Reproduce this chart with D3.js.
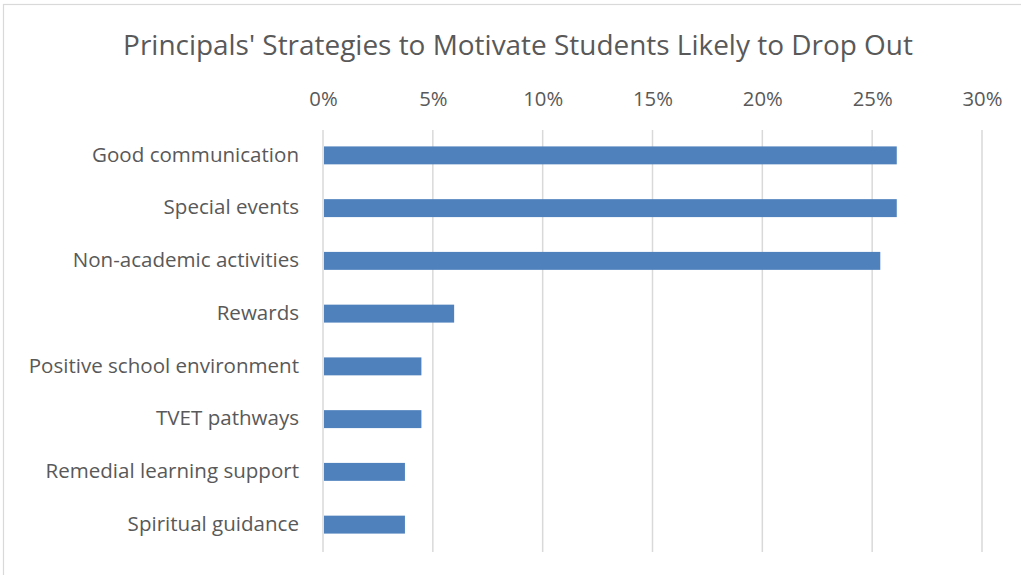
<!DOCTYPE html>
<html>
<head>
<meta charset="utf-8">
<script src="https://cdn.jsdelivr.net/npm/d3@7"></script>
<style>
  html, body { margin: 0; padding: 0; background: #ffffff; }
  svg { display: block; }
</style>
</head>
<body>
<svg id="chart" width="1021" height="575"></svg>
<script>
// Strategies and share of principals naming each one (%)
const categories = [
  "Good communication",
  "Special events",
  "Non-academic activities",
  "Rewards",
  "Positive school environment",
  "TVET pathways",
  "Remedial learning support",
  "Spiritual guidance"
];
const shares = [26.12, 26.12, 25.37, 5.97, 4.48, 4.48, 3.73, 3.73];
const tickValues = [0, 5, 10, 15, 20, 25, 30];
const title = "Principals' Strategies to Motivate Students Likely to Drop Out";

const W = 1021, H = 575;
const margin = { top: 130, right: 39, bottom: 23, left: 323 };
const FONT = "'Open Sans', 'DejaVu Sans', sans-serif";
const TEXT = "#595959";

const svg = d3.select("#chart");

// Chart area outline
svg.append("rect")
  .attr("x", 3.5).attr("y", 4.5)
  .attr("width", W + 10).attr("height", H + 10)
  .attr("fill", "#ffffff")
  .attr("stroke", "#d9d9d9")
  .attr("stroke-width", 1.2);

const x = d3.scaleLinear()
  .domain([0, 30])
  .range([margin.left, W - margin.right]);

const y = d3.scaleBand()
  .domain(categories)
  .range([margin.top - 1, H - margin.bottom - 1])
  .paddingInner(0.66)
  .paddingOuter(0.33);

// Fit a text node to a target width by adjusting its font size
function fitWidth(sel, target) {
  const base = parseFloat(sel.attr("font-size"));
  const w = sel.node().getComputedTextLength();
  sel.attr("font-size", base * target / w);
  return base * target / w;
}

// Title
const titleText = svg.append("text")
  .attr("x", 518).attr("y", 55)
  .attr("text-anchor", "middle")
  .attr("font-family", FONT)
  .attr("font-size", 26)
  .attr("fill", TEXT)
  .text(title);
fitWidth(titleText, 790);

// Vertical gridlines
svg.append("g")
  .selectAll("line")
  .data(tickValues)
  .join("line")
  .attr("x1", d => x(d)).attr("x2", d => x(d))
  .attr("y1", margin.top).attr("y2", H - margin.bottom)
  .attr("stroke", "#d9d9d9")
  .attr("stroke-width", 1.5);

// Top percentage axis
const xAxis = svg.append("g")
  .attr("transform", `translate(0, 106)`)
  .call(d3.axisTop(x).tickValues(tickValues).tickFormat(d => d + "%").tickSize(0).tickPadding(0));
xAxis.select(".domain").remove();
xAxis.selectAll("text")
  .attr("font-family", FONT)
  .attr("font-size", 18)
  .attr("fill", TEXT)
  .attr("dy", 0);
const tickNode = xAxis.selectAll("text").filter(d => d === 30);
const tickSize = fitWidth(tickNode, 40);
xAxis.selectAll("text").attr("font-size", tickSize);

// Bars
svg.append("g")
  .selectAll("rect")
  .data(categories.map((c, i) => ({ c, v: shares[i] })))
  .join("rect")
  .attr("x", x(0) + 1)
  .attr("y", d => y(d.c))
  .attr("width", d => x(d.v) - x(0) - 1)
  .attr("height", y.bandwidth())
  .attr("fill", "#4f81bd");

// Category labels
const yAxis = svg.append("g")
  .attr("transform", `translate(${margin.left - 24}, 0)`)
  .call(d3.axisLeft(y).tickSize(0).tickPadding(0));
yAxis.select(".domain").remove();
yAxis.selectAll("text")
  .attr("font-family", FONT)
  .attr("font-size", 18)
  .attr("fill", TEXT)
  .attr("dy", "0.3em");
const labelNode = yAxis.selectAll("text").filter(d => d === "Good communication");
const labelSize = fitWidth(labelNode, 207);
yAxis.selectAll("text").attr("font-size", labelSize);
</script>
</body>
</html>
